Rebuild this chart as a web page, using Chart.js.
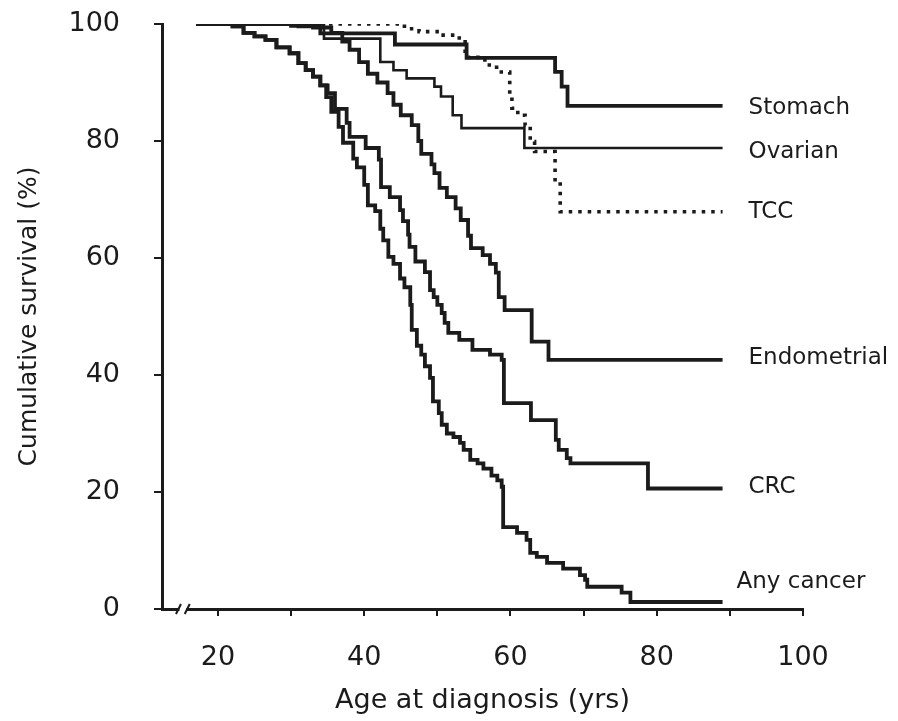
<!DOCTYPE html>
<html>
<head>
<meta charset="utf-8">
<script src="https://cdn.jsdelivr.net/npm/chart.js@4"></script>
<style>
  body { margin: 0; background: #fff; }
  #wrap { width: 898px; height: 721px; }
</style>
</head>
<body>
<div id="wrap"><canvas id="survivalChart"></canvas></div>
<script>
// Cumulative survival by age at diagnosis (Kaplan-Meier style steps)
const seriesNames = ['Stomach', 'Ovarian', 'TCC', 'Endometrial', 'CRC', 'Any cancer'];

const stomachAge = [17, 31, 34, 44.2, 54, 66.1, 67, 67.8, 89];
const stomachSurv = [100, 99.6, 98.4, 96.5, 94.2, 91.8, 89.3, 86, 86];

const ovarianAge = [17, 34.5, 42.2, 44, 45.8, 49.6, 50.5, 52.1, 53.3, 61.9, 89];
const ovarianSurv = [100, 97.5, 93.5, 92.1, 90.7, 89.3, 87.6, 84.4, 82.2, 78.8, 78.8];

const tccAge = [17, 45.5, 47.5, 50.5, 53, 53.8, 56.5, 58.1, 59.9, 60.2, 61, 62, 62.7, 63.3, 66.1, 66.8, 89];
const tccSurv = [100, 99.2, 98.7, 98.1, 97.6, 94.3, 93, 91.8, 88, 85.6, 84.4, 82.7, 79.9, 78.2, 73, 67.9, 67.9];

const endoAge = [17, 30, 33, 35.5, 37, 38, 39.3, 40.5, 41.8, 43.2, 44, 45, 46.5, 47.4, 47.8, 49.2, 49.6, 50.3, 51.3, 52.5,
  53.2, 54.2, 54.6, 56.2, 57.2, 58, 58.4, 59.2, 62.9, 65.2, 89];
const endoSurv = [100, 99.7, 99.4, 98.5, 97, 95.6, 93.5, 91.5, 90, 88.2, 86.2, 84.4, 82.7, 80, 77.8, 76, 74.5, 72, 70.4, 68.5,
  66.5, 63.8, 61.7, 60.5, 59, 57.5, 53.3, 51.1, 45.7, 42.6, 42.6];

const crcAge = [17, 22, 23.5, 25, 26.5, 28, 29.8, 31, 32, 33, 34, 35, 36, 37.6, 38, 40.2, 42, 42.3, 43.5, 44.9,
  45.3, 46, 46.2, 47, 48.3, 49, 49.5, 50, 50.6, 51, 51.5, 53, 54.8, 57.2, 58.8, 59.1, 62.8, 66.2, 66.6, 67.7,
  68.2, 78.8, 89];
const crcSurv = [100, 99.6, 98.5, 97.9, 97.3, 96, 95, 93.3, 92.1, 91, 89.5, 88.2, 85.5, 83.1, 80.7, 78.8, 76.8, 72.1, 70.4, 68.2,
  66.3, 64, 61.9, 59.4, 57.6, 54.5, 53.3, 52, 50.6, 48.9, 47.2, 46, 44.3, 43.5, 42.6, 35.2, 32.3, 28.9, 27.2, 25.8,
  24.9, 20.6, 20.6];

const anyAge = [17, 22, 23.5, 25, 26.5, 28, 29.8, 31, 32, 33, 34, 34.8, 35.5, 36.5, 37.1, 38.5, 39, 40, 40.5, 41.5,
  42.2, 42.6, 43.3, 44, 44.9, 45.5, 46.3, 46.5, 47.2, 47.8, 48.3, 49, 49.4, 50.2, 50.6, 51.3, 52.2, 53.1, 53.6, 54.5,
  55.5, 56.3, 57.4, 58.2, 58.8, 59, 60.9, 62.2, 62.7, 63.6, 65, 67.2, 69.5, 70.2, 70.5, 75.2, 76.4, 89];
const anySurv = [100, 99.6, 98.5, 97.9, 97.3, 96, 95, 93.3, 92.1, 91, 89.5, 87.5, 85, 82.4, 79.7, 77, 75.5, 72.5, 69, 68,
  65, 63, 60.2, 59, 56.5, 55, 52, 47.7, 45, 43.5, 41.5, 39.5, 35.5, 33.5, 31.5, 30, 29.4, 28.4, 27.2, 25.5,
  24.9, 24, 22.8, 22, 20.9, 14, 13, 11.8, 9.6, 8.9, 7.9, 6.9, 5.8, 5, 3.8, 2.8, 1.2, 1.2];

const yTicks = [0, 20, 40, 60, 80, 100];
const xLabelTicks = [20, 40, 60, 80, 100];

const ink = '#1b1b1b';
const fontFamily = '"DejaVu Sans", Arial, sans-serif';

function toPoints(ages, surv) {
  return ages.map((a, i) => ({ x: a, y: surv[i] }));
}

// hold the previous level until the next age, then drop
function stepLine(label, ages, surv, width, dash) {
  return {
    label: label,
    data: toPoints(ages, surv),
    borderColor: ink,
    borderWidth: width,
    borderDash: dash || [],
    borderCapStyle: 'butt',
    stepped: 'before',
    pointRadius: 0,
    fill: false
  };
}

// text beside the end of each curve (pixel nudges only)
const labelNudge = [
  { dx: 26, dy: 2 }, { dx: 26, dy: 4 }, { dx: 26, dy: 0 },
  { dx: 26, dy: -2 }, { dx: 26, dy: -1 }, { dx: 14, dy: -20 }
];

const endLabels = {
  id: 'endLabels',
  afterDatasetsDraw(chart) {
    const ctx = chart.ctx;
    ctx.save();
    ctx.font = '23px ' + fontFamily;
    ctx.fillStyle = ink;
    ctx.textAlign = 'left';
    ctx.textBaseline = 'middle';
    chart.data.datasets.forEach((ds, i) => {
      const pts = chart.getDatasetMeta(i).data;
      const last = pts[pts.length - 1];
      ctx.fillText(ds.label, last.x + labelNudge[i].dx, last.y + labelNudge[i].dy);
    });
    ctx.restore();
  }
};

// the little "//" break on the x axis
const axisBreak = {
  id: 'axisBreak',
  afterDraw(chart) {
    const ctx = chart.ctx;
    const xs = chart.scales.x;
    const y0 = chart.chartArea.bottom;
    const a = xs.getPixelForValue(14.6);
    const b = xs.getPixelForValue(15.8);
    ctx.save();
    ctx.fillStyle = '#fff';
    ctx.fillRect(a + 1, y0 - 3, b - a - 2, 6);
    ctx.strokeStyle = ink;
    ctx.lineWidth = 2;
    [a, b].forEach(x => {
      ctx.beginPath();
      ctx.moveTo(x - 2.5, y0 + 5);
      ctx.lineTo(x + 2.5, y0 - 5);
      ctx.stroke();
    });
    ctx.restore();
  }
};

const survCtx = document.getElementById('survivalChart');
new Chart(survCtx, {
  type: 'line',
  data: {
    datasets: [
      stepLine(seriesNames[0], stomachAge, stomachSurv, 3.8),
      stepLine(seriesNames[1], ovarianAge, ovarianSurv, 2.6),
      stepLine(seriesNames[2], tccAge, tccSurv, 3.6, [3.5, 6]),
      stepLine(seriesNames[3], endoAge, endoSurv, 3.8),
      stepLine(seriesNames[4], crcAge, crcSurv, 3.8),
      stepLine(seriesNames[5], anyAge, anySurv, 3.8)
    ]
  },
  options: {
    responsive: true,
    maintainAspectRatio: false,
    animation: false,
    layout: { padding: { left: 0, right: 95, top: 24, bottom: 0 } },
    plugins: {
      legend: { display: false },
      tooltip: { enabled: false }
    },
    scales: {
      x: {
        type: 'linear',
        min: 12.35,
        max: 100,
        afterFit(scale) { scale.height = 112; },
        border: { display: true, color: ink, width: 3 },
        grid: { drawOnChartArea: false, drawTicks: true, tickLength: 7, color: ink, lineWidth: 2 },
        ticks: {
          stepSize: 10,
          includeBounds: false,
          autoSkip: false,
          maxRotation: 0,
          padding: 26,
          color: ink,
          font: { family: fontFamily, size: 27 },
          callback: v => xLabelTicks.includes(v) ? String(v) : ''
        },
        title: {
          display: true,
          text: 'Age at diagnosis (yrs)',
          color: ink,
          font: { family: fontFamily, size: 27 },
          padding: { top: 0, bottom: 4 }
        }
      },
      y: {
        min: 0,
        max: 100,
        afterFit(scale) {
          scale.width = 162;
          scale.paddingTop = 0;
          scale.paddingBottom = 0;
        },
        border: { display: true, color: ink, width: 3 },
        grid: { drawOnChartArea: false, drawTicks: true, tickLength: 8, color: ink, lineWidth: 2 },
        ticks: {
          stepSize: 20,
          padding: 34,
          color: ink,
          font: { family: fontFamily, size: 27 },
          callback: v => yTicks.includes(v) ? String(v) : ''
        },
        title: {
          display: true,
          text: 'Cumulative survival (%)',
          color: ink,
          font: { family: fontFamily, size: 25 },
          padding: { top: 14, bottom: 0 }
        }
      }
    }
  },
  plugins: [endLabels, axisBreak]
});
</script>
</body>
</html>
